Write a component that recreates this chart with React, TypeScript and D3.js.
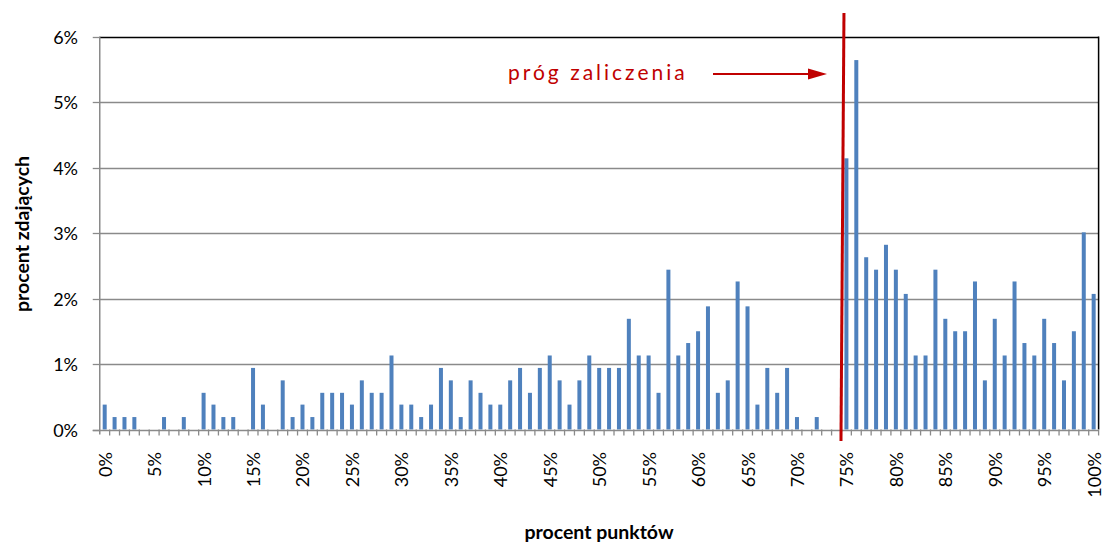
import React from "react";
import * as d3 from "d3";

const categories: number[] = d3.range(0, 101);
const values: number[] = [
  0.38, 0.19, 0.19, 0.19, 0, 0, 0.19, 0, 0.19, 0,
  0.56, 0.38, 0.19, 0.19, 0, 0.94, 0.38, 0, 0.75, 0.19,
  0.38, 0.19, 0.56, 0.56, 0.56, 0.38, 0.75, 0.56, 0.56, 1.13,
  0.38, 0.38, 0.19, 0.38, 0.94, 0.75, 0.19, 0.75, 0.56, 0.38,
  0.38, 0.75, 0.94, 0.56, 0.94, 1.13, 0.75, 0.38, 0.75, 1.13,
  0.94, 0.94, 0.94, 1.69, 1.13, 1.13, 0.56, 2.44, 1.13, 1.32,
  1.5, 1.88, 0.56, 0.75, 2.26, 1.88, 0.38, 0.94, 0.56, 0.94,
  0.19, 0, 0.19, 0, 0, 4.14, 5.64, 2.63, 2.44, 2.82,
  2.44, 2.07, 1.13, 1.13, 2.44, 1.69, 1.5, 1.5, 2.26, 0.75,
  1.69, 1.13, 2.26, 1.32, 1.13, 1.69, 1.32, 0.75, 1.5, 3.01,
  2.07,
];
const yTicks: number[] = [0, 1, 2, 3, 4, 5, 6];
const xLabelCats: number[] = [0, 5, 10, 15, 20, 25, 30, 35, 40, 45, 50, 55, 60, 65, 70, 75, 80, 85, 90, 95, 100];
const threshold = 75;
const yTitle = "procent zdających";
const xTitle = "procent punktów";
const annotation = "próg zaliczenia";

const W = 1103;
const H = 543;
const left = 99.75;
const right = 1098.6;
const top = 36.5;
const bottom = 429.5;
const font = "Lato, 'Open Sans', sans-serif";
const blue = "#4f81bd";
const red = "#c00000";
const grid = "#8a8a8a";

export default function App() {
  const x = d3.scaleBand<number>().domain(categories).range([left, right]).padding(0);
  const y = d3.scaleLinear().domain([0, 6]).range([bottom, top]);
  const bw = x.bandwidth();
  const barW = 4;
  const cx = (c: number) => (x(c) as number) + bw / 2;
  const thrX = x(threshold) as number;

  return (
    <svg width={W} height={H} style={{ position: "absolute", left: 0, top: 0, background: "#fff" }}>
      {yTicks.filter((t) => t > 0 && t < 6).map((t) => (
        <line key={"g" + t} x1={left} x2={right} y1={Math.round(y(t)) + 0.5} y2={Math.round(y(t)) + 0.5} stroke={grid} strokeWidth={1.3} />
      ))}
      <line x1={left} x2={right} y1={Math.round(y(6)) + 0.5} y2={Math.round(y(6)) + 0.5} stroke="#000" strokeWidth={1.5} />
      <line x1={right} x2={right} y1={top} y2={bottom} stroke="#000" strokeWidth={1.5} />
      {categories.map((c, i) => (
        values[i] > 0 ? (
          <rect key={"b" + c} x={cx(c) - barW / 2} y={y(values[i])} width={barW} height={y(0) - y(values[i])} fill={blue} />
        ) : null
      ))}
      <line x1={left} x2={left} y1={top} y2={bottom + 5} stroke={grid} strokeWidth={1.5} />
      <line x1={left - 7} x2={right} y1={Math.round(y(0)) + 0.5} y2={Math.round(y(0)) + 0.5} stroke={grid} strokeWidth={1.5} />
      {yTicks.map((t) => (
        <line key={"yt" + t} x1={left - 7} x2={left} y1={Math.round(y(t)) + 0.5} y2={Math.round(y(t)) + 0.5} stroke={grid} strokeWidth={1.3} />
      ))}
      {categories.map((c) => (
        <line key={"xt" + c} x1={(x(c) as number) + bw} x2={(x(c) as number) + bw} y1={bottom} y2={bottom + 6} stroke={grid} strokeWidth={1.3} />
      ))}
      {yTicks.map((t) => (
        <text key={"yl" + t} x={78} y={y(t)} textAnchor="end" dominantBaseline="central" fontFamily={font} fontSize={18} fill="#000">
          {t + "%"}
        </text>
      ))}
      {xLabelCats.map((c) => (
        <text key={"xl" + c} transform={`translate(${cx(c)},452) rotate(-90)`} textAnchor="end" dominantBaseline="central" fontFamily={font} fontSize={18} fill="#000">
          {c + "%"}
        </text>
      ))}
      <text transform="translate(21,234) rotate(-90)" textAnchor="middle" dominantBaseline="central" fontFamily={font} fontSize={19.5} fontWeight="bold" fill="#000">
        {yTitle}
      </text>
      <text x={599} y={539} textAnchor="middle" fontFamily={font} fontSize={19.5} fontWeight="bold" fill="#000">
        {xTitle}
      </text>
      <line x1={thrX + 2.5} x2={thrX - 0.5} y1={13} y2={441} stroke={red} strokeWidth={3} />
      <text x={508} y={80} fontFamily={font} fontSize={21} fill={red} letterSpacing={3}>
        {annotation}
      </text>
      <line x1={713} x2={812} y1={74} y2={74} stroke={red} strokeWidth={1.8} />
      <path d={`M808,68.5 L827,74 L808,79.5 Z`} fill={red} />
    </svg>
  );
}
